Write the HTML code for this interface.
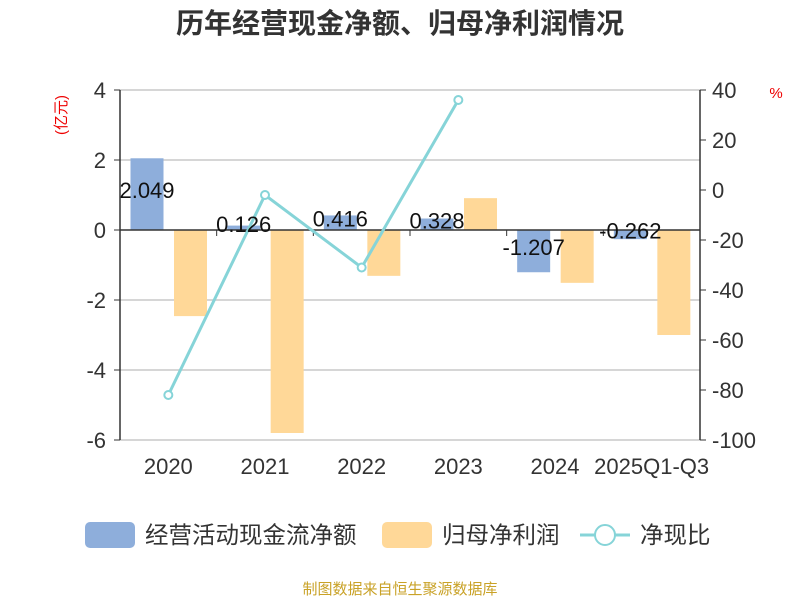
<!DOCTYPE html>
<html><head><meta charset="utf-8"><style>
body{margin:0;background:#fff;font-family:"Liberation Sans","Noto Sans CJK SC",sans-serif}
</style></head><body>
<svg id="c" width="800" height="600" xmlns="http://www.w3.org/2000/svg" font-family="Liberation Sans, Noto Sans CJK SC, sans-serif">
<text x="400" y="33" text-anchor="middle" font-size="28" font-weight="bold" fill="#333">历年经营现金净额、归母净利润情况</text>
<text transform="translate(66,115) rotate(-90)" text-anchor="middle" font-size="15" fill="#e00">(亿元)</text>
<text x="776" y="98" text-anchor="middle" font-size="15" fill="#e00">%</text>
<g id="grid"></g><g id="bars"></g><g id="axes"></g><g id="line"></g><g id="labels"></g>
<g>
<rect x="85" y="522" width="50" height="26" rx="5" fill="#8eaedb"/>
<text x="145" y="543" font-size="23.5" fill="#333">经营活动现金流净额</text>
<rect x="382" y="522" width="50" height="26" rx="5" fill="#ffd898"/>
<text x="442" y="543" font-size="23.5" fill="#333">归母净利润</text>
<line x1="580" y1="535" x2="630" y2="535" stroke="#86d4d8" stroke-width="3"/>
<circle cx="605" cy="535" r="10" fill="#fff" stroke="#86d4d8" stroke-width="2"/>
<text x="640" y="543" font-size="23.5" fill="#333">净现比</text>
</g>
<text x="400" y="594" text-anchor="middle" font-size="15" fill="#c9a227">制图数据来自恒生聚源数据库</text>
</svg>
<script>
const categories=["2020","2021","2022","2023","2024","2025Q1-Q3"];
const cashflow=[2.049,0.126,0.416,0.328,-1.207,-0.262];
const cashLabels=["2.049","0.126","0.416","0.328","-1.207","-0.262"];
const profit=[-2.46,-5.8,-1.31,0.91,-1.51,-3.0];
const ratio=[-82,-2,-31,36,null,null];
const leftTicks=[4,2,0,-2,-4,-6];
const rightTicks=[40,20,0,-20,-40,-60,-80,-100];
const NS="http://www.w3.org/2000/svg";
const X0=120,X1=700,Y0=90,Y1=440;
const yL=v=>Y0+(4-v)*(Y1-Y0)/10;
const yR=v=>Y0+(40-v)*(Y1-Y0)/140;
const bw=(X1-X0)/categories.length;
const xC=i=>X0+bw*(i+0.5);
function mk(t,a,p){const e=document.createElementNS(NS,t);for(const k in a)e.setAttribute(k,a[k]);document.getElementById(p).appendChild(e);return e;}
leftTicks.forEach(v=>{
 if(v!==0&&v!==-6){const g=mk('line',{x1:X0,x2:X1,y1:yL(v),y2:yL(v),stroke:'#c8c8c8','stroke-width':1.5},'grid');
 
 }
 const t=mk('text',{x:X0-14,y:yL(v)+8,'text-anchor':'end','font-size':22,fill:'#333'},'axes');t.textContent=v;
 
 
 mk('line',{x1:X0-6,x2:X0,y1:yL(v),y2:yL(v),stroke:'#333'},'axes');
});
rightTicks.forEach(v=>{
 const t=mk('text',{x:X1+12,y:yR(v)+8,'font-size':22,fill:'#333'},'axes');t.textContent=v;
 
 
 mk('line',{x1:X1,x2:X1+6,y1:yR(v),y2:yR(v),stroke:'#333'},'axes');
});
let a=mk('line',{x1:X0,x2:X0,y1:Y0,y2:Y1,stroke:'#333','stroke-width':1.5},'axes');


a=mk('line',{x1:X1,x2:X1,y1:Y0,y2:Y1,stroke:'#333','stroke-width':1.5},'axes');


a=mk('line',{x1:X0,x2:X1,y1:yL(0),y2:yL(0),stroke:'#333','stroke-width':1.5},'axes');


a=mk('line',{x1:X0,x2:X1,y1:yL(-6),y2:yL(-6),stroke:'#c8c8c8','stroke-width':1.5},'grid');


categories.forEach((c,i)=>{
 const gx=X0+bw*i;
 if(i>0)mk('line',{x1:gx,x2:gx,y1:yL(0),y2:yL(0)+6,stroke:'#333'},'axes');
 const t=mk('text',{x:xC(i),y:474,'text-anchor':'middle','font-size':22,fill:'#333'},'axes');t.textContent=c;
 
 
 const v=cashflow[i],y=Math.min(yL(v),yL(0)),h=Math.abs(yL(v)-yL(0));
 const b=mk('rect',{x:gx+10.5,y:y,width:33,height:h,fill:'#8eaedb'},'bars');
 
 
 const p=profit[i],py=Math.min(yL(p),yL(0)),ph=Math.abs(yL(p)-yL(0));
 const b2=mk('rect',{x:gx+54,y:py,width:33,height:ph,fill:'#ffd898'},'bars');
 
 
 const l=mk('text',{x:gx+27,y:(yL(v)+yL(0))/2+4,'text-anchor':'middle','font-size':22,fill:'#111'},'labels');l.textContent=cashLabels[i];
 
 
});
const pts=ratio.map((v,i)=>v===null?null:[xC(i),yR(v)]).filter(p=>p);
const pl=mk('polyline',{points:pts.map(p=>p.join(',')).join(' '),fill:'none',stroke:'#86d4d8','stroke-width':3},'line');


pts.forEach(p=>{const c=mk('circle',{cx:p[0],cy:p[1],r:4,fill:'#fff',stroke:'#86d4d8','stroke-width':2},'line');
 
 });
</script>
</body></html>
